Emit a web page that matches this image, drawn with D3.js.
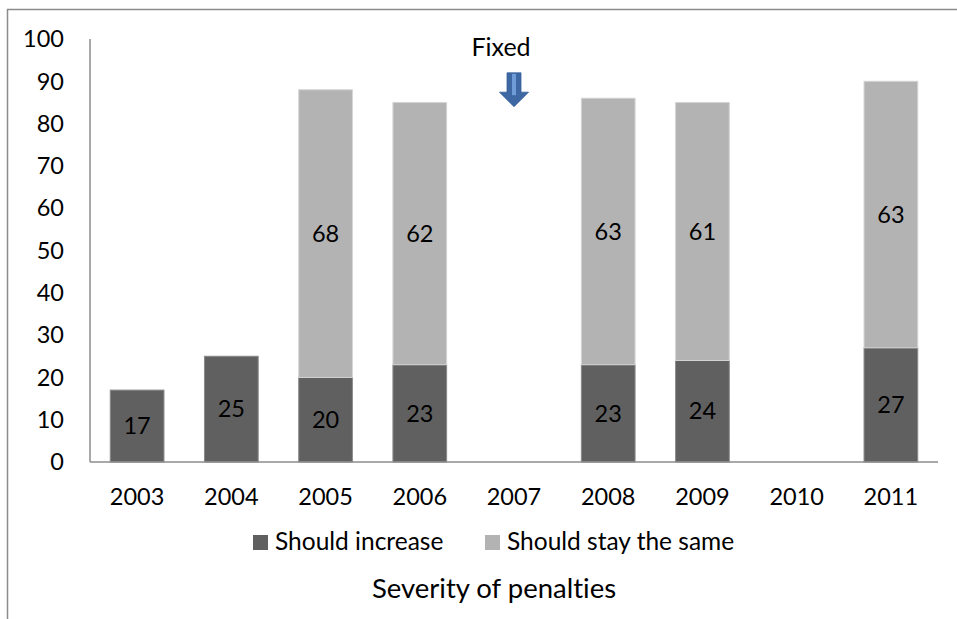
<!DOCTYPE html>
<html>
<head>
<meta charset="utf-8">
<script src="https://cdn.jsdelivr.net/npm/d3@7"></script>
<style>
  html, body { margin: 0; padding: 0; background: #fff; }
  svg { display: block; }
  text { font-family: Lato, "Open Sans", sans-serif; fill: #000; font-variant-ligatures: none; }
</style>
</head>
<body>
<svg id="chart" width="957" height="619"></svg>
<script>
const years = ["2003", "2004", "2005", "2006", "2007", "2008", "2009", "2010", "2011"];
const shouldIncrease = [17, 25, 20, 23, null, 23, 24, null, 27];
const shouldStaySame = [null, null, 68, 62, null, 63, 61, null, 63];
const seriesNames = ["Should increase", "Should stay the same"];
const seriesColors = ["#606060", "#b3b3b3"];
const yTicks = [0, 10, 20, 30, 40, 50, 60, 70, 80, 90, 100];
const axisTitle = "Severity of penalties";
const annotationText = "Fixed";
const annotationYear = "2007";
const arrowTop = 92, arrowBottom = 84; // value units

const FS = 23.5;
const svg = d3.select("#chart");

svg.append("rect").attr("x", 7.5).attr("y", 9.5).attr("width", 1000).attr("height", 700)
  .attr("fill", "none").attr("stroke", "#8c8c8c").attr("stroke-width", 1.5);

const pLeft = 90, pRight = 938, pTop = 39, pBottom = 462;

const x = d3.scaleBand().domain(years).range([pLeft, pRight]).paddingInner(0.43).paddingOuter(0.215);
const y = d3.scaleLinear().domain([0, 100]).range([pBottom, pTop]);

const rows = years.map((yr, i) => ({ year: yr, inc: shouldIncrease[i] || 0, same: shouldStaySame[i] || 0 }));
const stack = d3.stack().keys(["inc", "same"])(rows);

const g = svg.append("g");
stack.forEach((layer, li) => {
  layer.forEach((d, i) => {
    const v = d[1] - d[0];
    if (v <= 0) return;
    g.append("rect")
      .attr("x", x(rows[i].year))
      .attr("y", y(d[1]))
      .attr("width", x.bandwidth())
      .attr("height", y(d[0]) - y(d[1]))
      .attr("fill", seriesColors[li])
      .attr("stroke", li === 1 ? "#d4d4d4" : "#8a8a8a")
      .attr("stroke-width", 1);
    g.append("text")
      .attr("x", x(rows[i].year) + x.bandwidth() / 2)
      .attr("y", (y(d[0]) + y(d[1])) / 2)
      .attr("dy", "0.35em")
      .attr("text-anchor", "middle")
      .attr("font-size", FS)
      .text(v);
  });
});

svg.append("line").attr("x1", pLeft).attr("x2", pLeft).attr("y1", pTop).attr("y2", pBottom)
  .attr("stroke", "#8c8c8c").attr("stroke-width", 1.5);
svg.append("line").attr("x1", pLeft).attr("x2", pRight).attr("y1", pBottom).attr("y2", pBottom)
  .attr("stroke", "#8c8c8c").attr("stroke-width", 1.5);

svg.append("g").selectAll("text").data(yTicks).join("text")
  .attr("x", 64).attr("y", d => y(d)).attr("dy", "0.35em")
  .attr("text-anchor", "end").attr("font-size", FS).text(d => d);

svg.append("g").selectAll("text").data(years).join("text")
  .attr("x", d => x(d) + x.bandwidth() / 2).attr("y", 505)
  .attr("text-anchor", "middle").attr("font-size", FS).text(d => d);

const legend = svg.append("g");
const legX = [253, 485];
seriesNames.forEach((n, i) => {
  legend.append("rect").attr("x", legX[i]).attr("y", 535).attr("width", 15).attr("height", 15)
    .attr("fill", seriesColors[i]);
  legend.append("text").attr("x", legX[i] + 22).attr("y", 550).attr("font-size", 24.5).text(n);
});

svg.append("text").attr("x", 494).attr("y", 598).attr("text-anchor", "middle")
  .attr("font-size", 27.5).text(axisTitle);

const ax = x(annotationYear) + x.bandwidth() / 2;
svg.append("text").attr("x", ax - 13).attr("y", 56).attr("text-anchor", "middle")
  .attr("font-size", 25).text(annotationText);
const yt = y(arrowTop), yb = y(arrowBottom), yh = yb - 14.5;
svg.append("path")
  .attr("d", `M${ax - 7},${yt} L${ax + 7},${yt} L${ax + 7},${yh} L${ax + 14.5},${yh} L${ax},${yb} L${ax - 14.5},${yh} L${ax - 7},${yh} Z`)
  .attr("fill", "#3e68a3").attr("stroke", "#37609a").attr("stroke-width", 0.8);
svg.append("rect").attr("x", ax - 2).attr("y", yt + 1).attr("width", 4).attr("height", yh - yt + 2)
  .attr("fill", "#6f9bd6");
</script>
</body>
</html>
